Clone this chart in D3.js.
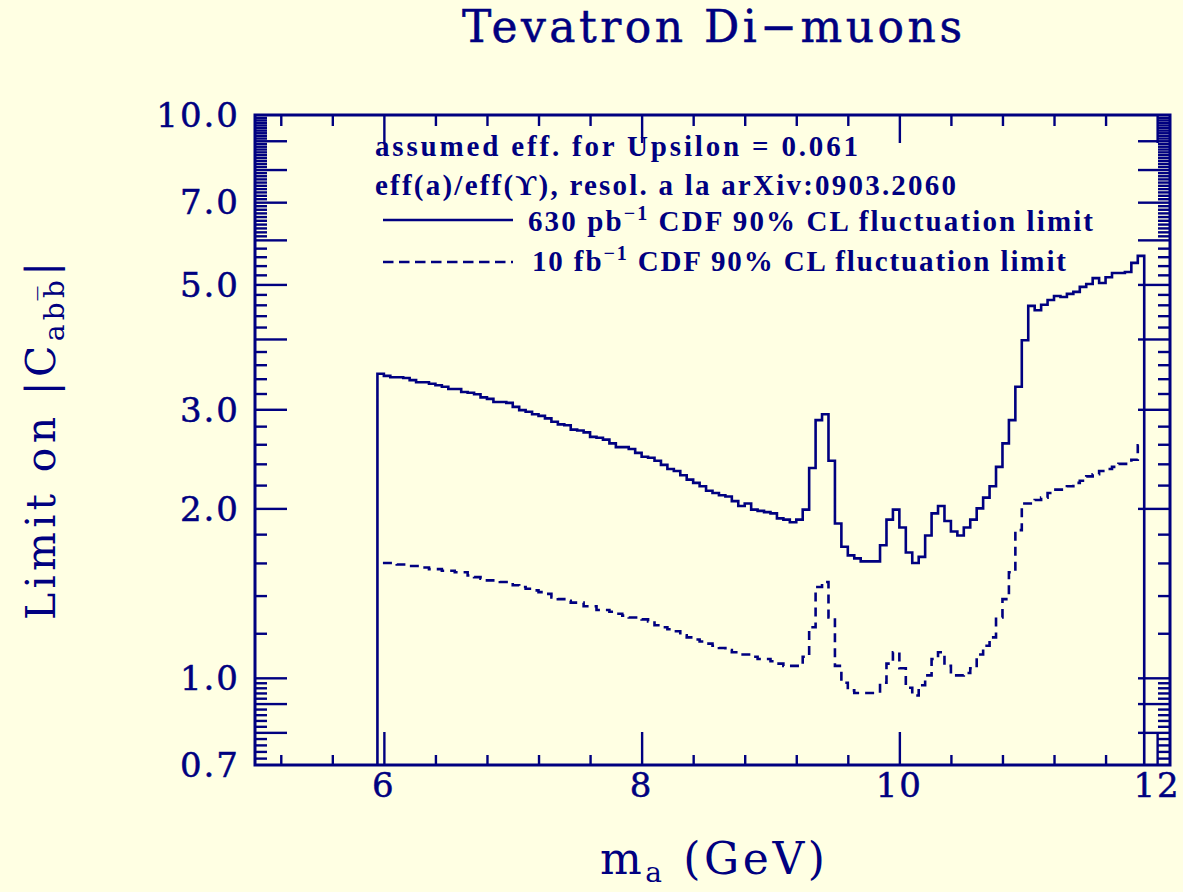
<!DOCTYPE html>
<html>
<head>
<meta charset="utf-8">
<script src="https://cdn.jsdelivr.net/npm/d3@7"></script>
<style>
html, body { margin: 0; padding: 0; background: #ffffe3; }
svg { display: block; }
</style>
</head>
<body>
<script>
// low edges of the 0.05 GeV bins, 5.95 .. 11.85 (last bin closes at 11.9)
var binLow = d3.range(119).map(function(i) { return +(5.95 + 0.05 * i).toFixed(2); });
var binEnd = 11.9;

// 630 pb^-1 CDF 90% CL fluctuation limit (solid)
var lim630 = [
  3.47, 3.44, 3.42, 3.42, 3.41, 3.38, 3.35, 3.35, 3.33, 3.31,
  3.29, 3.26, 3.26, 3.22, 3.21, 3.19, 3.15, 3.13, 3.09, 3.09,
  3.08, 3.03, 2.99, 2.97, 2.94, 2.92, 2.89, 2.85, 2.82, 2.81,
  2.76, 2.75, 2.73, 2.68, 2.67, 2.65, 2.61, 2.57, 2.57, 2.55,
  2.51, 2.47, 2.46, 2.43, 2.39, 2.35, 2.33, 2.29, 2.25, 2.22,
  2.19, 2.15, 2.13, 2.11, 2.10, 2.06, 2.02, 2.04, 1.99, 1.98,
  1.97, 1.96, 1.92, 1.91, 1.89, 1.91, 1.99,
  2.36, 2.87, 2.94, 2.43, 1.88, 1.71, 1.65, 1.63, 1.61, 1.61,
  1.61, 1.72, 1.91, 1.99, 1.85, 1.67, 1.60, 1.64, 1.79, 1.96,
  2.02, 1.90, 1.82, 1.79, 1.85, 1.91, 2.00, 2.09, 2.19, 2.37,
  2.61, 2.87, 3.29, 3.98, 4.58, 4.50, 4.60, 4.69, 4.77, 4.75,
  4.81, 4.85, 4.95, 5.01, 5.13, 5.03, 5.15, 5.24, 5.24, 5.26,
  5.46, 5.62
];

// 10 fb^-1 CDF 90% CL fluctuation limit (dashed)
var lim10fb = [
  1.60, 1.60, 1.60, 1.59, 1.59, 1.58, 1.58, 1.57, 1.56, 1.56,
  1.55, 1.55, 1.54, 1.54, 1.52, 1.51, 1.50, 1.49, 1.49, 1.48,
  1.48, 1.46, 1.45, 1.44, 1.43, 1.42, 1.41, 1.39, 1.38, 1.37,
  1.36, 1.36, 1.34, 1.34, 1.32, 1.32, 1.31, 1.30, 1.29, 1.28,
  1.28, 1.27, 1.26, 1.24, 1.23, 1.22, 1.21, 1.19, 1.18, 1.17,
  1.16, 1.15, 1.14, 1.13, 1.12, 1.11, 1.10, 1.10, 1.09, 1.08,
  1.08, 1.07, 1.06, 1.05, 1.05, 1.05, 1.09,
  1.23, 1.45, 1.48, 1.28, 1.05, 0.98, 0.95, 0.94, 0.94, 0.94,
  0.94, 0.98, 1.06, 1.11, 1.04, 0.96, 0.93, 0.97, 1.01, 1.08,
  1.11, 1.05, 1.01, 1.01, 1.02, 1.04, 1.10, 1.14, 1.18, 1.28,
  1.38, 1.54, 1.83, 2.04, 2.04, 2.07, 2.09, 2.13, 2.16, 2.16,
  2.19, 2.22, 2.24, 2.28, 2.30, 2.33, 2.35, 2.37, 2.40, 2.40,
  2.44, 2.59
];

var yTickLabels = [0.7, 1.0, 2.0, 3.0, 5.0, 7.0, 10.0];
var xTickLabels = [6, 8, 10, 12];

var ink = "#000080";
var W = 1183, H = 892;
var plotL = 255, plotR = 1170, plotT = 115, plotB = 765;

var svg = d3.select("body").append("svg")
    .attr("width", W)
    .attr("height", H)
    .style("background", "#ffffe3");

var x = d3.scaleLinear().domain([5, 12.1]).range([plotL, plotR]);
var y = d3.scaleLog().domain([0.7, 10]).range([plotB, plotT]);

// tick sets (TopDrawer style log axis)
function near(a, b) { return Math.abs(a - b) < 1e-6; }
var yMajor = [0.8, 0.9, 1, 2, 3, 4, 5, 6, 7, 8, 9];
var yMinor = [];
d3.range(0.72, 0.999, 0.02).forEach(function(v) { if (!near(v, 0.8) && !near(v, 0.9)) yMinor.push(v); });
d3.range(1.2, 5.99, 0.2).forEach(function(v) { if (!near(v, Math.round(v))) yMinor.push(v); });
d3.range(6.1, 9.99, 0.1).forEach(function(v) { if (!near(v, Math.round(v))) yMinor.push(v); });
var xMajor = [6, 8, 10, 12];
var xMinor = d3.range(5.2, 12.01, 0.4).filter(function(v) { return !xMajor.some(function(m) { return near(m, v); }); });

function ticks(axis, pos, vals, size) {
  var g = svg.append("g")
      .attr("transform", pos)
      .call(axis.tickValues(vals).tickSize(size).tickSizeOuter(0).tickFormat(""));
  g.select(".domain").remove();
  g.selectAll("line").attr("stroke", ink).attr("stroke-width", 2.4);
  g.selectAll("text").remove();
}
ticks(d3.axisLeft(y), "translate(" + plotL + ",0)", yMinor, -12);
ticks(d3.axisLeft(y), "translate(" + plotL + ",0)", yMajor, -32);
ticks(d3.axisRight(y), "translate(" + plotR + ",0)", yMinor, -12);
ticks(d3.axisRight(y), "translate(" + plotR + ",0)", yMajor, -32);
ticks(d3.axisBottom(x), "translate(0," + plotB + ")", xMinor, -10);
ticks(d3.axisBottom(x), "translate(0," + plotB + ")", xMajor, -33);
ticks(d3.axisTop(x), "translate(0," + plotT + ")", xMinor, -11);
ticks(d3.axisTop(x), "translate(0," + plotT + ")", xMajor, -28);

// frame
svg.append("rect")
    .attr("x", plotL).attr("y", plotT)
    .attr("width", plotR - plotL).attr("height", plotB - plotT)
    .attr("fill", "none").attr("stroke", ink).attr("stroke-width", 3);

// tick labels
svg.append("g").selectAll("text")
    .data(yTickLabels)
    .enter().append("text")
    .attr("x", 240)
    .attr("y", function(d) { return y(d); })
    .attr("dy", "0.36em")
    .attr("text-anchor", "end")
    .attr("font-family", "DejaVu Serif")
    .attr("font-size", 34)
    .attr("letter-spacing", 2)
    .attr("stroke", ink).attr("stroke-width", 0.5)
    .attr("fill", ink)
    .text(function(d) { return d.toFixed(1); });

svg.append("g").selectAll("text")
    .data(xTickLabels)
    .enter().append("text")
    .attr("x", function(d) { return x(d); })
    .attr("y", 797)
    .attr("text-anchor", "middle")
    .attr("font-family", "DejaVu Serif")
    .attr("font-size", 34)
    .attr("letter-spacing", 2)
    .attr("stroke", ink).attr("stroke-width", 0.5)
    .attr("fill", ink)
    .text(function(d) { return d; });

// histograms
svg.append("clipPath").attr("id", "plotclip")
    .append("rect").attr("x", plotL).attr("y", plotT)
    .attr("width", plotR - plotL).attr("height", plotB - plotT);

function histPts(vals, closed) {
  var pts = vals.map(function(v, i) { return [binLow[i], v]; });
  pts.push([binEnd, vals[vals.length - 1]]);
  if (closed) {
    pts.unshift([binLow[0], 0.7]);
    pts.push([binEnd, 0.7]);
  }
  return pts;
}
var step = d3.line()
    .x(function(d) { return x(d[0]); })
    .y(function(d) { return y(d[1]); })
    .curve(d3.curveStepAfter);

svg.append("path")
    .attr("clip-path", "url(#plotclip)")
    .attr("d", step(histPts(lim630, true)))
    .attr("fill", "none").attr("stroke", ink).attr("stroke-width", 2.6);

svg.append("path")
    .attr("clip-path", "url(#plotclip)")
    .attr("d", step(histPts(lim10fb, false)))
    .attr("fill", "none").attr("stroke", ink).attr("stroke-width", 2.6)
    .attr("stroke-dasharray", "9,6").attr("stroke-dashoffset", 9.5);

// legend
var lg = svg.append("g")
    .attr("font-family", "Liberation Serif")
    .attr("font-weight", "bold")
    .attr("font-size", 29)
    .attr("fill", ink);

lg.append("text").attr("x", 375).attr("y", 156).attr("textLength", 483)
    .text("assumed eff. for Upsilon = 0.061");
lg.append("text").attr("x", 375).attr("y", 195).attr("textLength", 581)
    .text("eff(a)/eff(\u03D2), resol. a la arXiv:0903.2060");

svg.append("line").attr("x1", 383).attr("x2", 513).attr("y1", 220).attr("y2", 220)
    .attr("stroke", ink).attr("stroke-width", 2.6);
svg.append("line").attr("x1", 383).attr("x2", 513).attr("y1", 262).attr("y2", 262)
    .attr("stroke", ink).attr("stroke-width", 2.6).attr("stroke-dasharray", "10.5,5.5");

var t3 = lg.append("text").attr("x", 528).attr("y", 231).attr("textLength", 565);
t3.append("tspan").text("630 pb");
t3.append("tspan").attr("dy", -11).attr("font-size", 20).text("\u22121");
t3.append("tspan").attr("dy", 11).text(" CDF 90% CL fluctuation limit");

var t4 = lg.append("text").attr("x", 532).attr("y", 271).attr("textLength", 534);
t4.append("tspan").text("10 fb");
t4.append("tspan").attr("dy", -11).attr("font-size", 20).text("\u22121");
t4.append("tspan").attr("dy", 11).text(" CDF 90% CL fluctuation limit");

// title
svg.append("text")
    .attr("x", 712).attr("y", 42)
    .attr("text-anchor", "middle")
    .attr("textLength", 500)
    .attr("font-family", "DejaVu Serif")
    .attr("font-size", 44)
    .attr("stroke", ink).attr("stroke-width", 0.5)
    .attr("fill", ink)
    .text("Tevatron Di\u2212muons");

// x axis title
var xt = svg.append("text")
    .attr("x", 600).attr("y", 874)
    .attr("textLength", 225)
    .attr("font-family", "DejaVu Serif")
    .attr("font-size", 44)
    .attr("fill", ink);
xt.append("tspan").text("m");
xt.append("tspan").attr("dy", 8).attr("font-size", 28).text("a");
xt.append("tspan").attr("dy", -8).text(" (GeV)");

// y axis title
var yt = svg.append("text")
    .attr("transform", "translate(55,620) rotate(-90)")
    .attr("textLength", 358)
    .attr("font-family", "DejaVu Serif")
    .attr("font-size", 41)
    .attr("fill", ink);
yt.append("tspan").text("Limit on |C");
yt.append("tspan").attr("dy", 9).attr("font-size", 28).text("ab\u0062\u0305");
yt.append("tspan").attr("dy", -9).text("|");
</script>
</body>
</html>
